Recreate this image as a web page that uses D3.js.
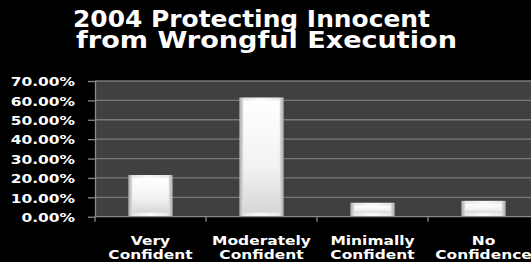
<!DOCTYPE html>
<html>
<head>
<meta charset="utf-8">
<script src="https://cdn.jsdelivr.net/npm/d3@7"></script>
<style>
  html, body { margin: 0; padding: 0; background: #000; }
  svg { display: block; }
  text { font-family: "DejaVu Sans", Verdana, sans-serif; font-weight: bold; fill: #fff; }
</style>
</head>
<body>
<svg id="chart" width="531" height="262"></svg>
<script>
// chart data
var titleLines = ["2004 Protecting Innocent", "from Wrongful Execution"];
var categories = [["Very", "Confident"], ["Moderately", "Confident"], ["Minimally", "Confident"], ["No", "Confidence"]];
var values = [0.215, 0.615, 0.072, 0.082];
var yTicks = [0, 0.1, 0.2, 0.3, 0.4, 0.5, 0.6, 0.7];

var svg = d3.select("#chart");
var stretch = 1.19;   // reference text is drawn wide

// plot area (note: "top" is reserved on window, so use plot* names)
var plotLeft = 95, plotRight = 539, plotTop = 81, plotBottom = 216.7;

var x = d3.scaleBand()
    .domain(categories.map(function(d, i) { return i; }))
    .range([plotLeft, plotRight])
    .paddingInner(0.6)
    .paddingOuter(0.3);

var y = d3.scaleLinear()
    .domain([0, 0.7])
    .range([plotBottom, plotTop]);

// gradients for the bevelled bars
var defs = svg.append("defs");
var gOuter = defs.append("linearGradient").attr("id", "barOuter")
    .attr("x1", 0).attr("x2", 1).attr("y1", 0).attr("y2", 0);
[[0, "#a8a8a8"], [0.1, "#e6e6e6"], [0.5, "#f8f8f8"], [0.9, "#e6e6e6"], [1, "#a8a8a8"]].forEach(function(s) {
    gOuter.append("stop").attr("offset", s[0]).attr("stop-color", s[1]);
});
var gInner = defs.append("linearGradient").attr("id", "barInner")
    .attr("x1", 0).attr("x2", 0).attr("y1", 0).attr("y2", 1);
[[0, "#ffffff"], [0.6, "#f2f2f2"], [1, "#d6d6d6"]].forEach(function(s) {
    gInner.append("stop").attr("offset", s[0]).attr("stop-color", s[1]);
});

// plot background
svg.append("rect")
    .attr("x", plotLeft).attr("y", plotTop)
    .attr("width", plotRight - plotLeft).attr("height", plotBottom - plotTop)
    .style("fill", "#404040");

// gridlines
svg.append("g")
    .selectAll("line")
    .data(yTicks.slice(1))
    .join("line")
    .attr("x1", plotLeft).attr("x2", plotRight)
    .attr("y1", function(d) { return y(d); })
    .attr("y2", function(d) { return y(d); })
    .style("stroke", "#7a7a7a")
    .style("stroke-width", 1.3);

// bars
var bars = svg.append("g")
    .selectAll("g")
    .data(values)
    .join("g");

bars.append("rect")
    .attr("x", function(d, i) { return x(i); })
    .attr("y", function(d) { return y(d); })
    .attr("width", x.bandwidth())
    .attr("height", function(d) { return plotBottom - y(d); })
    .style("fill", "url(#barOuter)");

bars.append("rect")
    .attr("x", function(d, i) { return x(i) + 4; })
    .attr("y", function(d) { return y(d) + 3; })
    .attr("width", x.bandwidth() - 8)
    .attr("height", function(d) { return Math.max(0, plotBottom - y(d) - 7); })
    .style("fill", "url(#barInner)");

// y axis
var yAxis = svg.append("g")
    .attr("transform", "translate(" + plotLeft + ",0)")
    .call(d3.axisLeft(y).tickValues(yTicks).tickFormat(d3.format(".2%")).tickSize(7).tickSizeOuter(0));

yAxis.select(".domain").style("stroke", "#8a8a8a").style("stroke-width", 1.3);
yAxis.selectAll(".tick line").style("stroke", "#8a8a8a").style("stroke-width", 1.3);
yAxis.selectAll(".tick text")
    .attr("x", 0)
    .attr("dy", "0.36em")
    .attr("transform", "translate(-20,0) scale(" + stretch + ",1)")
    .style("font-size", "13px")
    .style("fill", "#fff");

// x axis: ticks at category boundaries
var xAxis = svg.append("g");
xAxis.append("line")
    .attr("x1", plotLeft).attr("x2", plotRight)
    .attr("y1", plotBottom).attr("y2", plotBottom)
    .style("stroke", "#8a8a8a").style("stroke-width", 1.3);
xAxis.selectAll("line.tick")
    .data(categories)
    .join("line")
    .attr("class", "tick")
    .attr("x1", function(d, i) { return x(i) - (x.step() - x.bandwidth()) / 2; })
    .attr("x2", function(d, i) { return x(i) - (x.step() - x.bandwidth()) / 2; })
    .attr("y1", plotBottom)
    .attr("y2", plotBottom + 5)
    .style("stroke", "#8a8a8a").style("stroke-width", 1.3);

// category labels
var labels = svg.append("g")
    .selectAll("text")
    .data(categories)
    .join("text")
    .attr("text-anchor", "middle")
    .attr("transform", function(d, i) {
        return "translate(" + (x(i) + x.bandwidth() / 2) + ",245) scale(" + stretch + ",1)";
    })
    .style("font-size", "13px");

labels.selectAll("tspan")
    .data(function(d) { return d; })
    .join("tspan")
    .attr("x", 0)
    .attr("dy", function(d, i) { return i === 0 ? 0 : 14.5; })
    .text(function(d) { return d; });

// title
var titleX = [[73, 357], [76, 381]];
svg.append("g")
    .selectAll("text")
    .data(titleLines)
    .join("text")
    .attr("x", function(d, i) { return titleX[i][0]; })
    .attr("y", function(d, i) { return i === 0 ? 27 : 48; })
    .attr("textLength", function(d, i) { return titleX[i][1]; })
    .attr("lengthAdjust", "spacingAndGlyphs")
    .style("font-size", "22.5px")
    .text(function(d) { return d; });
</script>
</body>
</html>
